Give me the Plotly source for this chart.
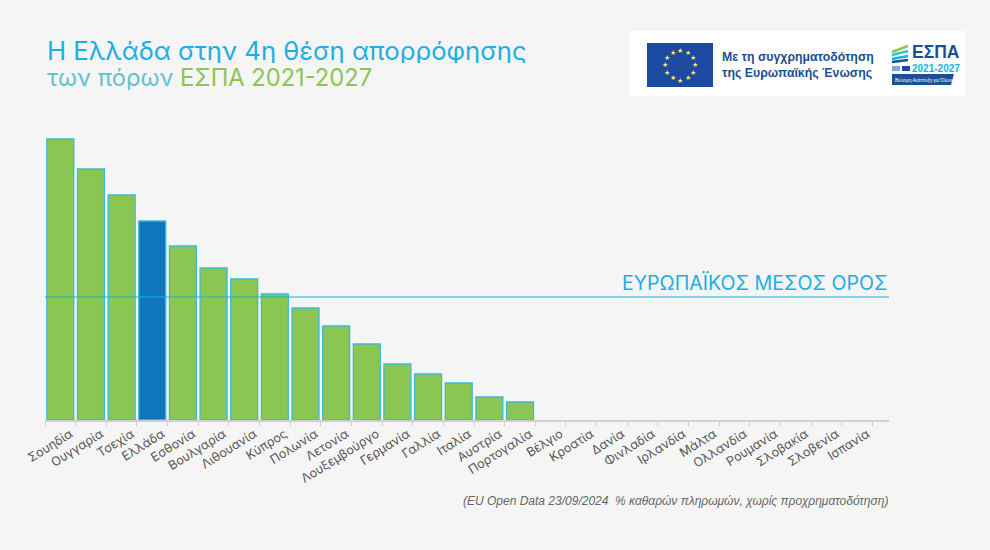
import math
import plotly.graph_objects as go

W = 990
H = 550

# Values are read off the bar heights (the chart has no y axis)
countries = ['Σουηδία', 'Ουγγαρία', 'Τσεχία', 'Ελλάδα', 'Εσθονία', 'Βουλγαρία', 'Λιθουανία',
             'Κύπρος', 'Πολωνία', 'Λετονία', 'Λουξεμβούργο', 'Γερμανία', 'Γαλλία', 'Ιταλία',
             'Αυστρία', 'Πορτογαλία', 'Βέλγιο', 'Κροατία', 'Δανία', 'Φινλαδία', 'Ιρλανδία',
             'Μάλτα', 'Ολλανδία', 'Ρουμανία', 'Σλοβακία', 'Σλοβενία', 'Ισπανία']
values = [28.1, 25.1, 22.5, 19.9, 17.4, 15.2, 14.1, 12.6, 11.2, 9.4, 7.6, 5.6, 4.6, 3.7, 2.3, 1.8,
          None, None, None, None, None, None, None, None, None, None, None]
eu_average = 12.3

GREEN = '#8BC653'
HIGHLIGHT = '#0F75BC'
OUTLINE = '#3CBBD6'
CYAN = '#1DAEE3'
TEAL = '#63C3CF'
LOGO_BLUE = '#1B4F93'

bar_colors = [HIGHLIGHT if c == 'Ελλάδα' else GREEN for c in countries]


# pixel position on the page -> paper coordinates
def px(x):
    return x / W


def py(y):
    return 1 - y / H


def label(x, y, text, size, color, anchor='left', family='Inter', **kw):
    return dict(x=px(x), y=py(y), xref='paper', yref='paper', text=text, showarrow=False,
                xanchor=anchor, yanchor='middle', font=dict(size=size, color=color, family=family), **kw)


def box(x0, y0, x1, y1, color):
    return dict(type='rect', xref='paper', yref='paper', x0=px(x0), x1=px(x1), y0=py(y0), y1=py(y1),
                fillcolor=color, line_width=0, layer='above')


fig = go.Figure()
fig.add_trace(go.Bar(x=countries, y=values, marker=dict(color=bar_colors, line=dict(color=OUTLINE, width=1.3)),
                     hoverinfo='x+y'))

annotations = [
    label(45, 50, 'Η Ελλάδα στην 4η θέση απορρόφησης', 25.7, CYAN, height=26),
    label(45, 77, f'των πόρων <span style="color:{GREEN}">ΕΣΠΑ 2021-2027</span>', 23.7, TEAL, height=26),
    label(889, 283, 'ΕΥΡΩΠΑΪΚΟΣ ΜΕΣΟΣ ΟΡΟΣ', 19.6, CYAN, anchor='right'),
    label(890, 501, '<i>(EU Open Data 23/09/2024  % καθαρών πληρωμών, χωρίς προχρηματοδότηση)</i>', 12,
          '#666666', anchor='right', family='Liberation Sans'),
    # logo strip
    label(720, 57, '<b>Με τη συγχρηματοδότηση</b>', 12.3, LOGO_BLUE, family='Liberation Sans'),
    label(720, 73, '<b>της Ευρωπαϊκής Ένωσης</b>', 12.3, LOGO_BLUE, family='Liberation Sans'),
    label(910, 52, '<b>ΕΣΠΑ</b>', 17.5, LOGO_BLUE, family='Liberation Sans'),
    label(910, 68, '<b>2021-2027</b>', 10, '#12B5DB', family='Liberation Sans'),
    label(893, 79.5, 'Βιώσιμη Ανάπτυξη για Όλους', 4.5, 'white', family='Liberation Sans'),
]

# EU flag stars
for i in range(12):
    a = math.radians(i * 30)
    annotations.append(label(680 + 15 * math.sin(a), 65 - 15 * math.cos(a), '★', 6, '#FFE96B', anchor='center'))

shapes = [
    box(630, 31, 965, 96, 'white'),
    box(647, 43, 713, 87, '#1B4AA0'),
    box(892, 66, 900, 71, '#7FA8D8'),
    box(902, 66, 910, 71, '#1B4AA0'),
    # dark ribbon under the logo
    dict(type='path', xref='paper', yref='paper', layer='above', fillcolor=LOGO_BLUE, line_width=0,
         path=f'M {px(892)} {py(74)} L {px(954)} {py(74)} L {px(951)} {py(85)} L {px(892)} {py(85)} Z'),
    # logo waves
    dict(type='line', xref='paper', yref='paper', layer='above', x0=px(892), x1=px(908), y0=py(52), y1=py(46),
         line=dict(color='#8BC653', width=2.5)),
    dict(type='line', xref='paper', yref='paper', layer='above', x0=px(892), x1=px(908), y0=py(55), y1=py(51),
         line=dict(color='#3CBBD6', width=2.5)),
    dict(type='line', xref='paper', yref='paper', layer='above', x0=px(892), x1=px(908), y0=py(59), y1=py(56),
         line=dict(color='#12B5DB', width=2.5)),
    dict(type='line', xref='paper', yref='paper', layer='above', x0=px(892), x1=px(908), y0=py(62), y1=py(60),
         line=dict(color=LOGO_BLUE, width=2.5)),
    # EU average
    dict(type='line', xref='paper', yref='y', x0=px(45), x1=px(889), y0=eu_average, y1=eu_average,
         line=dict(color=CYAN, width=1), layer='above'),
]

fig.update_layout(
    width=W, height=H,
    margin=dict(l=0, r=0, t=0, b=0, autoexpand=False),
    paper_bgcolor='#F5F5F5', plot_bgcolor='#F5F5F5',
    showlegend=False,
    bargap=0.12,
    annotations=annotations,
    shapes=shapes,
    xaxis=dict(domain=[px(45), px(889)], type='category', categoryorder='array', categoryarray=countries,
               range=[-0.5, 27.04], tickson='boundaries', ticks='outside', ticklen=4, tickcolor='#D0D0D0',
               showgrid=False, zeroline=False, showline=True, linecolor='#D0D0D0', linewidth=2,
               tickangle=-32, ticklabelshift=10, tickfont=dict(size=12.5, color='#555555', family='Inter')),
    yaxis=dict(domain=[py(420), py(130)], range=[0, 29], visible=False),
)

fig.write_html("out.html", config=dict(displayModeBar=False), post_script="document.body.style.margin='0';")
